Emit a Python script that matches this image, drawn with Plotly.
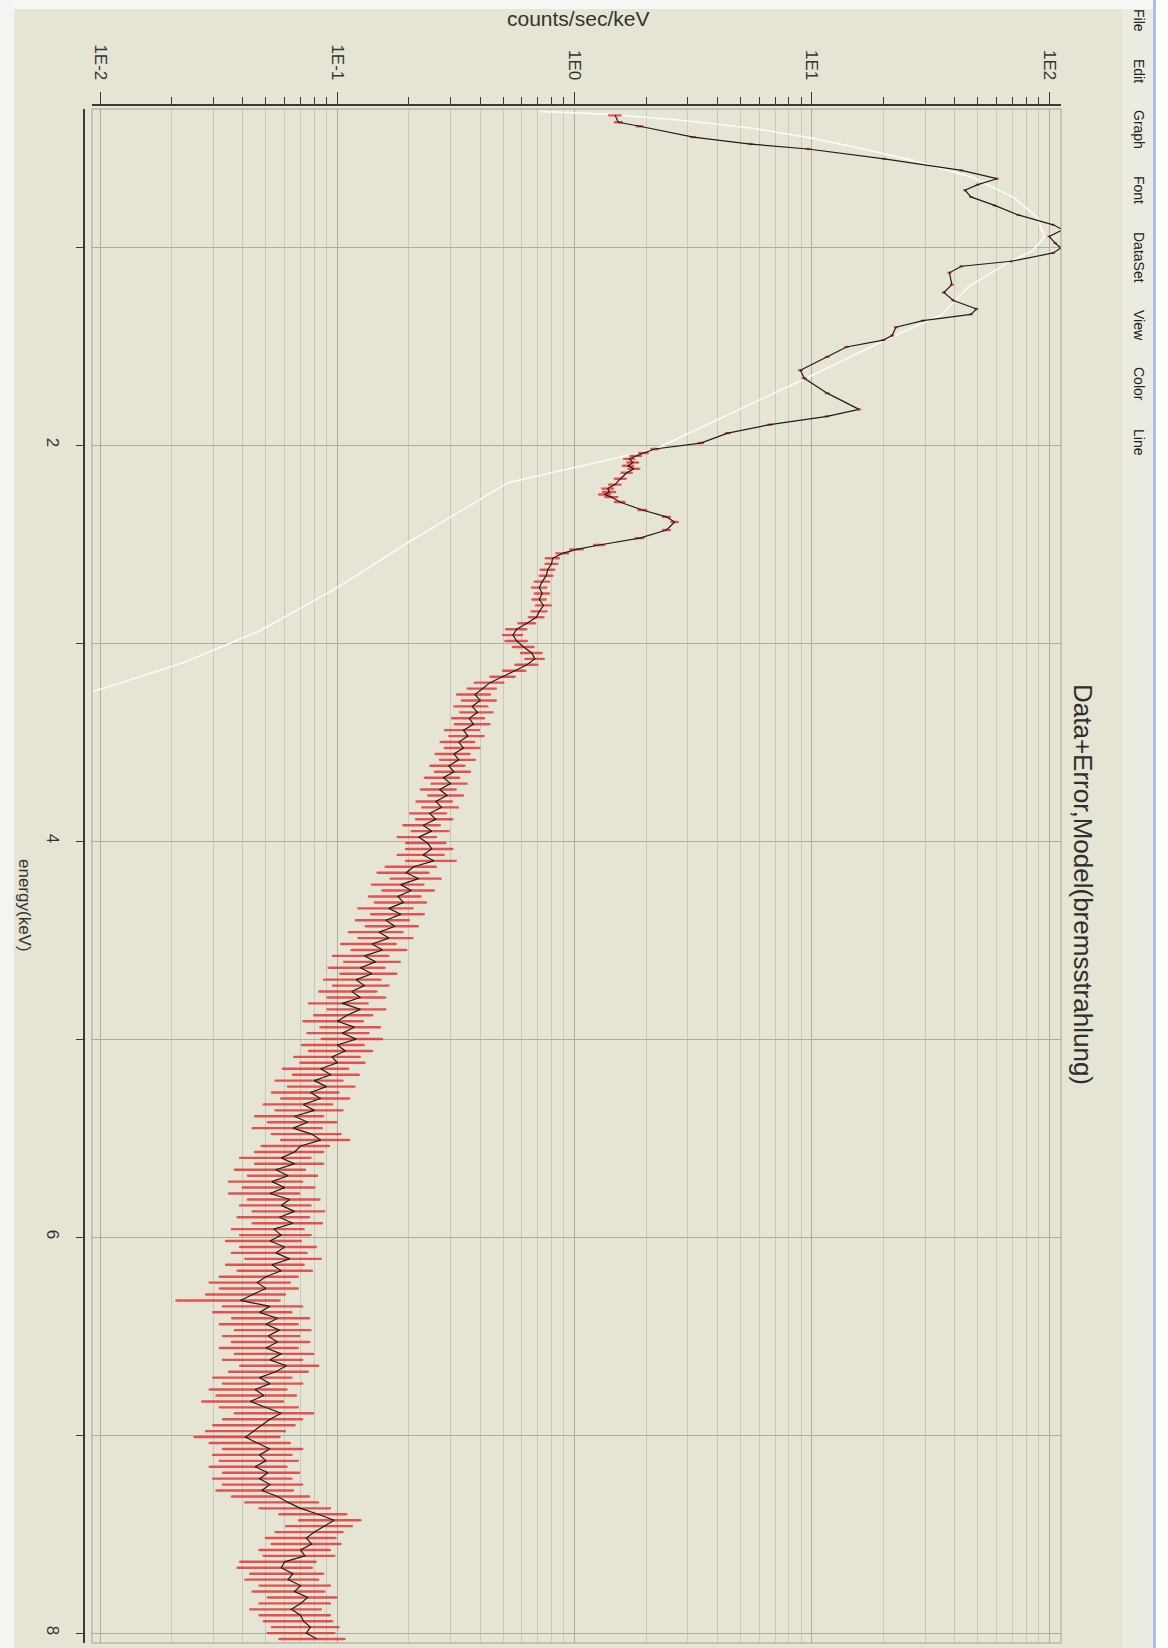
import plotly.graph_objects as go

# ---------------- data ----------------
energy_keV = [
    0.335, 0.37, 0.39, 0.445, 0.48, 0.505, 0.555, 0.613, 0.655, 0.685,
    0.713, 0.747, 0.79, 0.838, 0.888, 0.913, 0.947, 0.98, 1.005, 1.03,
    1.072, 1.097, 1.13, 1.19, 1.23, 1.27, 1.313, 1.34, 1.372, 1.405,
    1.447, 1.47, 1.505, 1.555, 1.622, 1.663, 1.738, 1.82, 1.855, 1.897,
    1.94, 1.99, 2.02, 2.04, 2.055, 2.07, 2.088, 2.105, 2.12, 2.14,
    2.17, 2.20, 2.22, 2.237, 2.25, 2.263, 2.288, 2.328, 2.363, 2.389,
    2.429, 2.47, 2.505, 2.527, 2.547, 2.572,
    2.60, 2.63, 2.66, 2.69, 2.72, 2.75, 2.78, 2.81, 2.84, 2.87,
    2.90, 2.93, 2.96, 2.99, 3.02, 3.05, 3.08, 3.11, 3.14, 3.17,
    3.20, 3.23, 3.26, 3.29, 3.32, 3.35, 3.38, 3.41, 3.44, 3.47,
    3.50, 3.53, 3.56, 3.59, 3.62, 3.65, 3.68, 3.71, 3.74, 3.77,
    3.80, 3.83, 3.86, 3.89, 3.92, 3.95, 3.98, 4.01,
    4.04, 4.07, 4.10, 4.13, 4.16, 4.19, 4.22, 4.25, 4.28, 4.31,
    4.34, 4.37, 4.40, 4.43, 4.46, 4.49, 4.52, 4.55, 4.58, 4.61,
    4.64, 4.67, 4.70, 4.73, 4.76, 4.79, 4.82, 4.85, 4.88, 4.91,
    4.94, 4.97, 5.00, 5.03,
    5.06, 5.09, 5.12, 5.15, 5.18, 5.21, 5.24, 5.27, 5.30, 5.33,
    5.36, 5.39, 5.42, 5.45, 5.48, 5.51, 5.54, 5.57, 5.60, 5.63,
    5.66, 5.69, 5.72, 5.75, 5.78, 5.81, 5.84, 5.87, 5.90, 5.93,
    5.96, 5.99,
    6.02, 6.05, 6.08, 6.11, 6.14, 6.17, 6.20, 6.23, 6.26, 6.29,
    6.32, 6.35, 6.38, 6.41, 6.44, 6.47, 6.50, 6.53, 6.56, 6.59,
    6.62, 6.65, 6.68, 6.71, 6.74, 6.77, 6.80, 6.83, 6.86, 6.89,
    6.92, 6.95, 6.98,
    7.01, 7.04, 7.07, 7.10, 7.13, 7.16, 7.19, 7.22, 7.25, 7.28,
    7.31, 7.34, 7.37, 7.40, 7.43, 7.46, 7.49, 7.52, 7.55, 7.58,
    7.61, 7.64, 7.67, 7.70, 7.73, 7.76, 7.79, 7.82, 7.85, 7.88,
    7.91, 7.94, 7.97, 8.00, 8.03,
]

counts = [
    1.48, 1.53, 1.88, 3.16, 5.52, 9.64, 20.2, 42.7, 60.3, 50.0,
    44.2, 46.8, 58.9, 74.1, 104, 114, 100, 106, 112, 104,
    69.2, 42.7, 38.0, 38.9, 36.0, 39.5, 49.4, 46.8, 29.4, 22.6,
    21.8, 20.0, 14.0, 11.6, 8.95, 9.29, 11.6, 15.8, 11.6, 6.65,
    4.42, 3.40, 2.18, 1.95, 1.81, 1.70, 1.76, 1.68, 1.78, 1.66,
    1.56, 1.48, 1.38, 1.40, 1.34, 1.43, 1.55, 1.93, 2.44, 2.64,
    2.44, 1.88, 1.27, 1.02, 0.889, 0.807,
    0.80, 0.77, 0.76, 0.73, 0.71, 0.73, 0.71, 0.74, 0.71, 0.69,
    0.63, 0.57, 0.55, 0.57, 0.61, 0.66, 0.68, 0.63, 0.56, 0.50,
    0.44, 0.41, 0.38, 0.40, 0.37, 0.39, 0.36, 0.375, 0.34, 0.355,
    0.325, 0.34, 0.31, 0.325, 0.295, 0.31, 0.28, 0.30, 0.27, 0.29,
    0.26, 0.275, 0.245, 0.26, 0.23, 0.25, 0.22, 0.24,
    0.25, 0.23, 0.255, 0.21, 0.195, 0.22, 0.185, 0.205, 0.18, 0.19,
    0.165, 0.185, 0.16, 0.175, 0.15, 0.165, 0.14, 0.155, 0.13, 0.145,
    0.125, 0.14, 0.12, 0.13, 0.115, 0.125, 0.105, 0.125, 0.11, 0.10,
    0.118, 0.105, 0.12, 0.10,
    0.108, 0.095, 0.10, 0.085, 0.094, 0.08, 0.09, 0.077, 0.085, 0.072,
    0.08, 0.066, 0.075, 0.065, 0.078, 0.085, 0.07, 0.066, 0.058, 0.066,
    0.055, 0.062, 0.053, 0.06, 0.052, 0.063, 0.058, 0.066, 0.057, 0.065,
    0.054, 0.058,
    0.052, 0.06, 0.055, 0.063, 0.053, 0.058, 0.05, 0.046, 0.05, 0.044,
    0.039, 0.052, 0.047, 0.056, 0.05, 0.057, 0.051, 0.056, 0.05, 0.058,
    0.052, 0.061, 0.055, 0.047, 0.052, 0.045, 0.049, 0.043, 0.05, 0.058,
    0.052, 0.048, 0.044,
    0.041, 0.046, 0.052, 0.047, 0.05, 0.045, 0.051, 0.047, 0.052, 0.048,
    0.056, 0.062, 0.07, 0.083, 0.097, 0.088, 0.08, 0.074, 0.078, 0.07,
    0.073, 0.06, 0.058, 0.065, 0.062, 0.07, 0.066, 0.075, 0.07, 0.064,
    0.07, 0.072, 0.077, 0.074, 0.082,
]

count_err = [
    0.08, 0.05, 0.05, 0.06, 0.08, 0.12, 0.2, 0.3, 0.4, 0.35,
    0.3, 0.3, 0.4, 0.45, 0.5, 0.55, 0.5, 0.5, 0.55, 0.5,
    0.4, 0.3, 0.3, 0.3, 0.3, 0.3, 0.35, 0.35, 0.25, 0.2,
    0.2, 0.2, 0.15, 0.14, 0.12, 0.12, 0.14, 0.16, 0.14, 0.1,
    0.08, 0.07, 0.07, 0.08, 0.09, 0.08, 0.09, 0.08, 0.09, 0.08,
    0.08, 0.08, 0.07, 0.08, 0.07, 0.08, 0.07, 0.07, 0.08, 0.08,
    0.08, 0.07, 0.06, 0.06, 0.05, 0.05,
    0.045, 0.05, 0.045, 0.05, 0.048, 0.05, 0.045, 0.052, 0.05, 0.048,
    0.05, 0.055, 0.05, 0.058, 0.06, 0.065, 0.06, 0.066, 0.06, 0.058,
    0.06, 0.055, 0.06, 0.065, 0.058, 0.06, 0.055, 0.062, 0.055, 0.058,
    0.052, 0.056, 0.05, 0.054, 0.048, 0.052, 0.046, 0.05, 0.045, 0.048,
    0.044, 0.047, 0.042, 0.045, 0.04, 0.044, 0.04, 0.045,
    0.055, 0.05, 0.06, 0.05, 0.047, 0.052, 0.045, 0.05, 0.044, 0.046,
    0.042, 0.046, 0.04, 0.043, 0.038, 0.042, 0.036, 0.04, 0.034, 0.038,
    0.033, 0.037, 0.032, 0.034, 0.031, 0.034, 0.029, 0.034, 0.03, 0.028,
    0.033, 0.03, 0.034, 0.029,
    0.032, 0.029, 0.03, 0.026, 0.029, 0.025, 0.028, 0.024, 0.027, 0.023,
    0.025, 0.021, 0.024, 0.021, 0.025, 0.027, 0.022, 0.021, 0.019, 0.021,
    0.018, 0.02, 0.018, 0.02, 0.017, 0.021, 0.019, 0.022, 0.019, 0.021,
    0.018, 0.019,
    0.018, 0.021, 0.019, 0.022, 0.019, 0.02, 0.018, 0.017, 0.018, 0.016,
    0.018, 0.019, 0.017, 0.02, 0.018, 0.02, 0.018, 0.02, 0.018, 0.021,
    0.019, 0.022, 0.02, 0.017, 0.019, 0.016, 0.018, 0.016, 0.018, 0.021,
    0.019, 0.018, 0.016,
    0.016, 0.017, 0.019, 0.017, 0.018, 0.016, 0.018, 0.017, 0.019, 0.017,
    0.02, 0.021, 0.023, 0.026, 0.028, 0.027, 0.025, 0.024, 0.025, 0.023,
    0.024, 0.021, 0.02, 0.022, 0.021, 0.023, 0.022, 0.024, 0.023, 0.021,
    0.023, 0.023, 0.024, 0.023, 0.025,
]

model_energy_keV = [0.315, 0.33, 0.36, 0.40, 0.45, 0.50, 0.57, 0.65, 0.75, 0.85,
                    0.95, 1.02, 1.07, 1.12, 1.20, 1.34, 1.47, 1.66, 1.84, 2.02,
                    2.19, 2.49, 2.72, 2.94, 3.10, 3.25, 3.30]
model_counts = [0.708, 1.41, 2.82, 5.62, 10.0, 15.8, 28.2, 47.9, 70.8, 89.1,
                95.5, 85.1, 69.2, 58.9, 45.7, 35.5, 20.4, 9.55, 4.57, 2.19,
                0.525, 0.20, 0.10, 0.0468, 0.0224, 0.0091, 0.0070]

decade_vals = [0.01, 0.1, 1, 10, 100]
decade_text = ["1E-2", "1E-1", "1E0", "1E1", "1E2"]
minor_vals = [m * 10.0 ** k for k in range(-2, 2) for m in range(2, 10)]
energy_tick_vals = [1, 2, 3, 4, 5, 6, 7, 8]
energy_tick_text = ["", "2", "", "4", "", "6", "", "8"]

title_text = "Data+Error,Model(bremsstrahlung)"
x_title = "counts/sec/keV"
y_title = "energy(keV)"
menu_items = ["File", "Edit", "Graph", "Font", "DataSet", "View", "Color", "Line"]
menu_y_px = [20, 71, 129, 190, 257, 325, 384, 442]

# ---------------- layout geometry (pixels) ----------------
W, H = 1168, 1648
L, R, T, B = 84, 1061, 105, 1643          # paper area
def px(x):
    return (x - L) / (R - L)
def py(y):
    return (B - y) / (B - T)

BG = "#E6E4D4"
AX = "#3A3A38"
GRID_MAJOR = "#AEAC9E"
GRID_MINOR = "#CAC8BA"
FONT = "Liberation Sans, Arial, sans-serif"

fig = go.Figure()

fig.add_trace(go.Scatter(
    x=model_counts, y=model_energy_keV, mode="lines",
    line=dict(color="#FAFAF6", width=1.6), hoverinfo="skip", showlegend=False,
))

fig.add_trace(go.Scatter(
    x=counts, y=energy_keV, mode="lines",
    line=dict(color="#1E1E1E", width=1.2),
    error_x=dict(type="data", array=count_err, symmetric=True,
                 color="rgba(228,40,40,0.78)", thickness=2.4, width=1),
    showlegend=False,
))

fig.update_layout(
    width=W, height=H,
    margin=dict(l=L, r=W - R, t=T, b=H - B, pad=0),
    paper_bgcolor=BG, plot_bgcolor=BG,
    font=dict(family=FONT, color="#333333"),
    showlegend=False,
    xaxis=dict(
        type="log", range=[-2.034, 2.05], domain=[px(92), 1.0],
        side="top", anchor="free", position=1.0,
        showline=True, linecolor=AX, linewidth=1.5,
        ticks="outside", ticklen=12, tickwidth=1.2, tickcolor=AX,
        tickmode="array", tickvals=decade_vals, ticktext=decade_text,
        tickangle=90, tickfont=dict(size=17, color="#333333", family=FONT),
        ticklabelstandoff=6,
        showgrid=True, gridcolor=GRID_MAJOR, gridwidth=1,
        minor=dict(tickmode="array", tickvals=minor_vals, ticks="outside",
                   ticklen=7, tickwidth=1.1, tickcolor=AX,
                   showgrid=True, gridcolor=GRID_MINOR, gridwidth=1),
        zeroline=False, fixedrange=True,
    ),
    yaxis=dict(
        range=[8.05, 0.303], domain=[0.0, py(109)],
        anchor="free", position=0.0,
        showline=True, linecolor=AX, linewidth=1.5,
        ticks="outside", ticklen=7, tickwidth=1.2, tickcolor=AX,
        tickmode="array", tickvals=energy_tick_vals, ticktext=energy_tick_text,
        tickangle=90, tickfont=dict(size=17, color="#333333", family=FONT),
        ticklabelstandoff=9,
        showgrid=True, gridcolor=GRID_MAJOR, gridwidth=1,
        zeroline=False, fixedrange=True,
    ),
)

shapes = [
    # plot frame
    dict(type="rect", xref="paper", yref="paper", x0=px(92), x1=px(1061),
         y0=py(1643), y1=py(109), line=dict(color="#A5A396", width=1),
         fillcolor="rgba(0,0,0,0)", layer="above"),
    # window borders
    dict(type="rect", xref="paper", yref="paper", x0=px(0), x1=px(W),
         y0=py(9), y1=py(0), line=dict(width=0), fillcolor="#F7F7F5", layer="above"),
    dict(type="rect", xref="paper", yref="paper", x0=px(0), x1=px(14),
         y0=py(H), y1=py(0), line=dict(width=0), fillcolor="#F4F4F2", layer="above"),
    dict(type="rect", xref="paper", yref="paper", x0=px(1122), x1=px(1153),
         y0=py(H), y1=py(9), line=dict(width=0), fillcolor="#ECEBE2", layer="above"),
    dict(type="rect", xref="paper", yref="paper", x0=px(1153), x1=px(1156),
         y0=py(H), y1=py(0), line=dict(width=0), fillcolor="#A9BFEA", layer="above"),
    dict(type="rect", xref="paper", yref="paper", x0=px(1156), x1=px(W),
         y0=py(H), y1=py(0), line=dict(width=0), fillcolor="#FFFFFF", layer="above"),
]
fig.update_layout(shapes=shapes)

annotations = [
    dict(text=x_title, x=px(578), y=py(19), xref="paper", yref="paper",
         showarrow=False, xanchor="center", yanchor="middle",
         font=dict(size=21, color="#333333", family=FONT)),
    dict(text=y_title, x=px(25), y=py(905), xref="paper", yref="paper",
         showarrow=False, xanchor="center", yanchor="middle", textangle=90,
         font=dict(size=17, color="#333333", family=FONT)),
    dict(text=title_text, x=px(1083), y=py(884), xref="paper", yref="paper",
         showarrow=False, xanchor="center", yanchor="middle", textangle=90,
         font=dict(size=26, color="#2E2E2E", family=FONT)),
]
for item, yy in zip(menu_items, menu_y_px):
    annotations.append(dict(text=item, x=px(1139), y=py(yy), xref="paper", yref="paper",
                            showarrow=False, xanchor="center", yanchor="middle",
                            textangle=90, font=dict(size=14, color="#222222", family=FONT)))
fig.update_layout(annotations=annotations)

fig.write_html("out.html")
